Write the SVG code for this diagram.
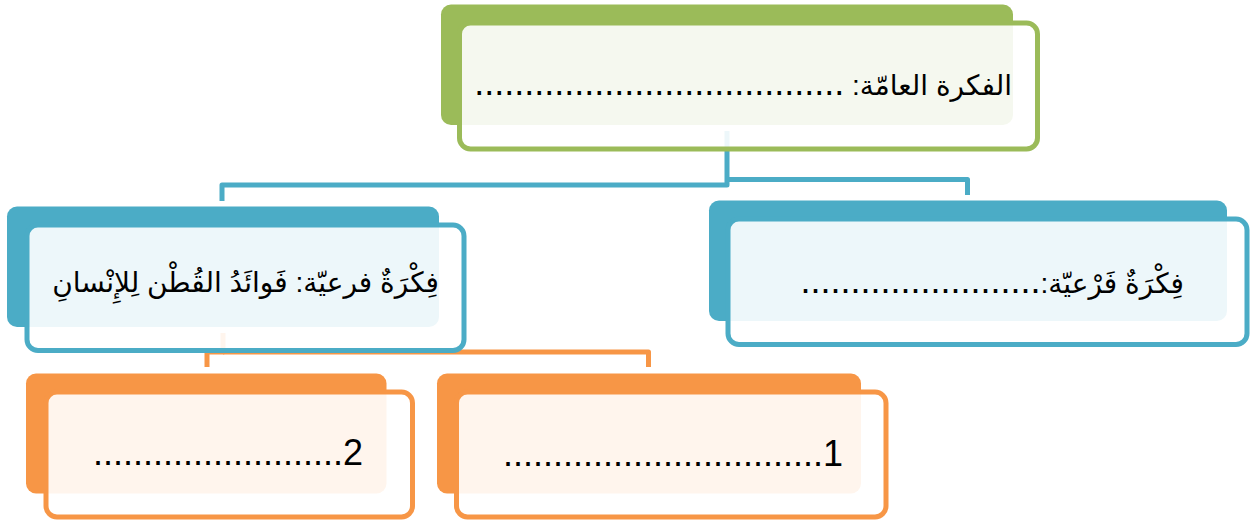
<svg xmlns="http://www.w3.org/2000/svg" width="1255" height="523" viewBox="0 0 1255 523">
<style>
.bg-g{fill:#9BBB59}
.bg-b{fill:#4BACC6}
.bg-o{fill:#F79646}
.fr{fill:#FFFFFF;fill-opacity:0.9;stroke-width:5}
.fr-g{stroke:#9BBB59}
.fr-b{stroke:#4BACC6}
.fr-o{stroke:#F79646}
.conn{fill:none;stroke-width:5;stroke-linejoin:round}
.cb{stroke:#4BACC6}
.co{stroke:#F79646}
.t{font-family:"Liberation Sans","DejaVu Sans",sans-serif;fill:#000}
.ar{font-size:28px}
.dt{font-size:36px}
</style>
<g id="connectors">
<path class="conn cb" d="M727,131 V185 H222 V201"/>
<path class="conn cb" d="M727,179.5 H967.5 V195"/>
<path class="conn co" d="M223,333 V352 H207 V367"/>
<path class="conn co" d="M223,352 H648.5 V367"/>
</g>
<g id="node-main">
<rect class="bg-g" x="441" y="4.5" width="572" height="120.5" rx="10"/>
<rect class="fr fr-g" x="459.5" y="23" width="578" height="126" rx="11"/>
<text class="t" x="1012" y="95" direction="rtl" text-anchor="start"><tspan class="ar">الفكرة العامّة: </tspan><tspan class="dt">.....................................</tspan></text>
</g>
<g id="node-sub-right">
<rect class="bg-b" x="709" y="200.5" width="518" height="120.5" rx="10"/>
<rect class="fr fr-b" x="728" y="219" width="519" height="125.5" rx="11"/>
<text class="t" x="1184" y="293" direction="rtl" text-anchor="start"><tspan class="ar">فِكْرَةٌ فَرْعيّة:</tspan><tspan class="dt">........................</tspan></text>
</g>
<g id="node-sub-left">
<rect class="bg-b" x="7" y="206.5" width="432" height="120.5" rx="10"/>
<rect class="fr fr-b" x="27" y="225" width="437" height="125.5" rx="11"/>
<text class="t ar" x="439" y="292" direction="rtl" text-anchor="start">فِكْرَةٌ فرعيّة: فَوائَدُ القُطْن لِلإِنْسانِ</text>
</g>
<g id="node-leaf-2">
<rect class="bg-o" x="26" y="373.5" width="360.5" height="120" rx="10"/>
<rect class="fr fr-o" x="46" y="392" width="366.5" height="125" rx="11"/>
<text class="t dt" x="363" y="465" text-anchor="end">.........................2</text>
</g>
<g id="node-leaf-1">
<rect class="bg-o" x="437" y="373.5" width="424" height="120" rx="10"/>
<rect class="fr fr-o" x="456.5" y="392" width="429.5" height="125" rx="11"/>
<text class="t dt" x="843" y="465.5" text-anchor="end">................................1</text>
</g>
</svg>
